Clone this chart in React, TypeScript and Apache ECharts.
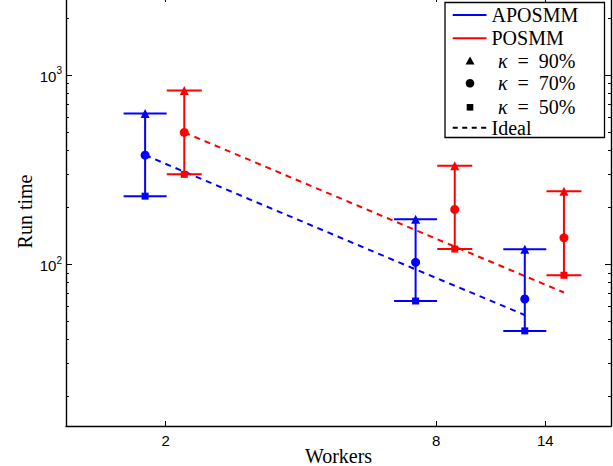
import React, { useEffect, useRef } from "react";
import * as echarts from "echarts";

// ---- data ----
const workers = [2, 8, 14];
const aposmm90 = [626, 173, 120];
const aposmm70 = [377, 102.5, 65.6];
const aposmm50 = [229, 64, 44.5];
const posmm90 = [828, 331, 243];
const posmm70 = [497, 195, 138];
const posmm50 = [298.5, 120.4, 87.5];
const idealAposmm = [377, 94, 54];
const idealPosmm = [497, 124, 71];
const xTickValues = [2, 8, 14];
const yMajorTicks = [100, 1000];
const yMinorTicks = [20, 30, 40, 50, 60, 70, 80, 90, 200, 300, 400, 500, 600, 700, 800, 900, 2000];

// ---- styling / placement constants ----
const BLUE = "#0000ff";
const RED = "#ff0000";
const BLUE_SHIFT = 0.9;
const RED_SHIFT = 1.1;
const SERIF = "Liberation Serif";
const SANS = "Liberation Sans";

function errorSeries(name: string, shift: number, lows: number[], highs: number[], color: string, halfCap: number) {
  return {
    type: "custom",
    name,
    xAxisIndex: 0,
    yAxisIndex: 0,
    silent: true,
    z: 3,
    data: workers.map((w, i) => [w * shift, lows[i], highs[i]]),
    encode: { x: 0, y: [1, 2] },
    renderItem: (params: any, api: any) => {
      const x = api.value(0);
      const lo = api.coord([x, api.value(1)]);
      const hi = api.coord([x, api.value(2)]);
      const style = { stroke: color, lineWidth: 2, fill: "none" };
      return {
        type: "group",
        children: [
          { type: "line", shape: { x1: lo[0], y1: lo[1], x2: hi[0], y2: hi[1] }, style },
          { type: "line", shape: { x1: lo[0] - halfCap, y1: lo[1], x2: lo[0] + halfCap, y2: lo[1] }, style },
          { type: "line", shape: { x1: hi[0] - halfCap, y1: hi[1], x2: hi[0] + halfCap, y2: hi[1] }, style },
        ],
      };
    },
  };
}

function markerSeries(shift: number, values: number[], color: string, symbol: string, size: number) {
  return {
    type: "scatter",
    xAxisIndex: 0,
    yAxisIndex: 0,
    silent: true,
    z: 4,
    symbol,
    symbolSize: size,
    itemStyle: { color, opacity: 1 },
    data: workers.map((w, i) => [w * shift, values[i]]),
  };
}

function idealSeries(shift: number, values: number[], color: string) {
  return {
    type: "line",
    xAxisIndex: 0,
    yAxisIndex: 0,
    silent: true,
    z: 2,
    symbol: "none",
    lineStyle: { color, width: 2, type: [6, 5] },
    data: workers.map((w, i) => [w * shift, values[i]]),
  };
}

export default function App() {
  const ref = useRef<HTMLDivElement>(null);
  useEffect(() => {
    if (!ref.current) return;
    const chart = echarts.init(ref.current, null, { renderer: "svg" });
    const axisLine = { show: true, onZero: false, lineStyle: { color: "#000", width: 1.4 } };
    const X_MIN = 1.2;
    const X_MAX = 19.6;
    const Y_MIN = 14;
    const Y_MAX = 2580;
    const legendRows = [15, 38.3, 61, 83.3, 107.3, 127.7];
    const lx0 = 452.7, lx1 = 486.5, ltx = 491.5, kx = 498, mx = 470;
    const legendText = (y: number, text: string) => ({
      type: "text",
      x: ltx,
      y,
      z: 101,
      style: { text, fontFamily: SERIF, fontSize: 20, fill: "#000", verticalAlign: "middle" },
    });
    const kappaText = (y: number, pct: string) => ({
      type: "text",
      x: kx,
      y,
      z: 101,
      style: {
        text: `{k|κ}\u2002=\u2002${pct}`,
        fontFamily: SERIF,
        fontSize: 20,
        fill: "#000",
        verticalAlign: "middle",
        rich: { k: { fontFamily: SERIF, fontSize: 20, fontStyle: "italic", fill: "#000" } },
      },
    });
    chart.setOption({
      animation: false,
      backgroundColor: "#fff",
      grid: { left: 66, right: 2, top: -3, bottom: 40, containLabel: false, outerBoundsMode: "none" },
      xAxis: [
        {
          type: "log",
          min: X_MIN,
          max: X_MAX,
          position: "bottom",
          axisLine,
          splitLine: { show: false },
          axisTick: { show: true, inside: true, length: 5, customValues: xTickValues, lineStyle: { color: "#000", width: 1 } },
          axisLabel: { show: true, customValues: xTickValues, margin: 7, fontFamily: SANS, fontSize: 15, color: "#000" },
          name: "Workers",
          nameLocation: "middle",
          nameGap: 20,
          nameMoveOverlap: false,
          nameTextStyle: { fontFamily: SERIF, fontSize: 20, lineHeight: 19, color: "#000" },
        },
        {
          type: "log",
          min: X_MIN,
          max: X_MAX,
          position: "top",
          axisLine,
          splitLine: { show: false },
          axisTick: { show: true, inside: true, length: 5, customValues: xTickValues, lineStyle: { color: "#000", width: 1 } },
          axisLabel: { show: false },
        },
      ],
      yAxis: [
        {
          type: "log",
          min: Y_MIN,
          max: Y_MAX,
          position: "left",
          axisLine,
          splitLine: { show: false },
          axisTick: { show: true, inside: true, length: 6, customValues: yMajorTicks, lineStyle: { color: "#000", width: 1 } },
          axisLabel: {
            show: true,
            customValues: yMajorTicks,
            margin: 4,
            formatter: (v: number) => `{b|10}{s|${Math.round(Math.log10(v))}}`,
            rich: {
              b: { fontFamily: SANS, fontSize: 15, color: "#000", lineHeight: 18, verticalAlign: "bottom" },
              s: { fontFamily: SANS, fontSize: 10, color: "#000", lineHeight: 18, verticalAlign: "top", padding: [0, 0, 6, 0] },
            },
          },
          name: "Run time",
          nameLocation: "middle",
          nameGap: 31,
          nameMoveOverlap: false,
          nameTextStyle: { fontFamily: SERIF, fontSize: 20, color: "#000" },
        },
        {
          type: "log",
          min: Y_MIN,
          max: Y_MAX,
          position: "left",
          axisLine: { show: false },
          splitLine: { show: false },
          axisTick: { show: true, inside: true, length: 3, customValues: yMinorTicks, lineStyle: { color: "#000", width: 1 } },
          axisLabel: { show: false },
        },
        {
          type: "log",
          min: Y_MIN,
          max: Y_MAX,
          position: "right",
          axisLine,
          splitLine: { show: false },
          axisTick: { show: true, inside: true, length: 6, customValues: yMajorTicks, lineStyle: { color: "#000", width: 1 } },
          axisLabel: { show: false },
        },
        {
          type: "log",
          min: Y_MIN,
          max: Y_MAX,
          position: "right",
          axisLine: { show: false },
          splitLine: { show: false },
          axisTick: { show: true, inside: true, length: 3, customValues: yMinorTicks, lineStyle: { color: "#000", width: 1 } },
          axisLabel: { show: false },
        },
      ],
      series: [
        idealSeries(BLUE_SHIFT, idealAposmm, BLUE),
        idealSeries(RED_SHIFT, idealPosmm, RED),
        errorSeries("APOSMM", BLUE_SHIFT, aposmm50, aposmm90, BLUE, 21.5),
        errorSeries("POSMM", RED_SHIFT, posmm50, posmm90, RED, 17.5),
        markerSeries(BLUE_SHIFT, aposmm90, BLUE, "triangle", 9),
        markerSeries(BLUE_SHIFT, aposmm70, BLUE, "circle", 9),
        markerSeries(BLUE_SHIFT, aposmm50, BLUE, "rect", 7),
        markerSeries(RED_SHIFT, posmm90, RED, "triangle", 9),
        markerSeries(RED_SHIFT, posmm70, RED, "circle", 9),
        markerSeries(RED_SHIFT, posmm50, RED, "rect", 7),
      ],
      graphic: [
        {
          type: "rect",
          z: 100,
          shape: { x: 445, y: 2.5, width: 159.5, height: 135 },
          style: { fill: "#fff", stroke: "#000", lineWidth: 1.3 },
        },
        { type: "line", z: 101, shape: { x1: lx0, y1: legendRows[0], x2: lx1, y2: legendRows[0] }, style: { stroke: BLUE, lineWidth: 2 } },
        legendText(legendRows[0], "APOSMM"),
        { type: "line", z: 101, shape: { x1: lx0, y1: legendRows[1], x2: lx1, y2: legendRows[1] }, style: { stroke: RED, lineWidth: 2 } },
        legendText(legendRows[1], "POSMM"),
        {
          type: "polygon",
          z: 101,
          shape: { points: [[mx, legendRows[2] - 4.5], [mx + 4.5, legendRows[2] + 3.5], [mx - 4.5, legendRows[2] + 3.5]] },
          style: { fill: "#000" },
        },
        kappaText(legendRows[2], "90%"),
        { type: "circle", z: 101, shape: { cx: mx, cy: legendRows[3], r: 4.3 }, style: { fill: "#000" } },
        kappaText(legendRows[3], "70%"),
        { type: "rect", z: 101, shape: { x: mx - 3.3, y: legendRows[4] - 3.3, width: 6.6, height: 6.6 }, style: { fill: "#000" } },
        kappaText(legendRows[4], "50%"),
        {
          type: "line",
          z: 101,
          shape: { x1: lx0, y1: legendRows[5], x2: lx1, y2: legendRows[5] },
          style: { stroke: "#000", lineWidth: 2, lineDash: [5, 4.5] },
        },
        legendText(legendRows[5], "Ideal"),
      ],
    });
    return () => chart.dispose();
  }, []);
  return <div ref={ref} style={{ position: "fixed", left: 0, top: 0, width: 613, height: 466 }} />;
}
